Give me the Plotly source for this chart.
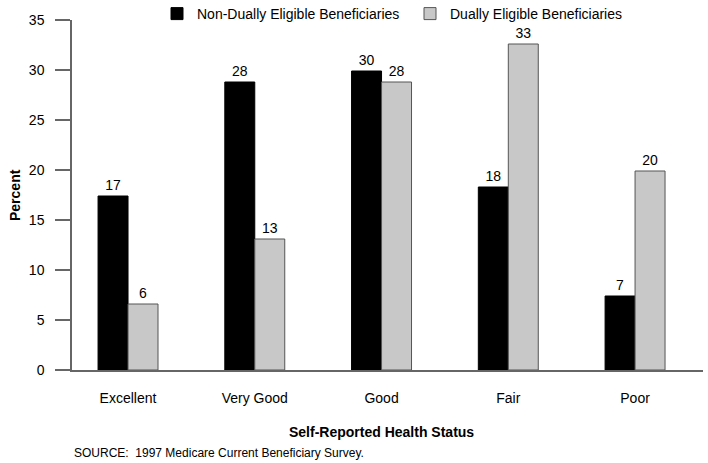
import plotly.graph_objects as go

categories = ["Excellent", "Very Good", "Good", "Fair", "Poor"]
non_dual = [17.4, 28.8, 29.9, 18.3, 7.4]
dual = [6.6, 13.1, 28.8, 32.6, 19.9]
non_dual_labels = ["17", "28", "30", "18", "7"]
dual_labels = ["6", "13", "28", "33", "20"]
y_ticks = [0, 5, 10, 15, 20, 25, 30, 35]

FONT = "Arial, Liberation Sans, sans-serif"
W, H = 708, 463
L, R, T, B = 72, 5, 20, 93
pw, ph = W - L - R, H - T - B

def px_x(p):
    return (p - L) / pw

def px_y(p):
    return (H - B - p) / ph

fig = go.Figure()
fig.add_bar(x=categories, y=non_dual, name="Non-Dually Eligible Beneficiaries",
            marker=dict(color="#000000", line=dict(color="#000000", width=1)),
            text=non_dual_labels, textposition="outside", cliponaxis=False,
            textfont=dict(family=FONT, size=14, color="#000"))
fig.add_bar(x=categories, y=dual, name="Dually Eligible Beneficiaries",
            marker=dict(color="#c8c8c8", line=dict(color="#555555", width=1)),
            text=dual_labels, textposition="outside", cliponaxis=False,
            textfont=dict(family=FONT, size=14, color="#000"))

fig.update_layout(
    width=W, height=H,
    margin=dict(l=L, r=R, t=T, b=B, pad=0, autoexpand=False),
    paper_bgcolor="white", plot_bgcolor="white",
    barmode="group", bargap=0.527, bargroupgap=0,
    font=dict(family=FONT, size=14, color="#000"),
    showlegend=True,
    legend=dict(orientation="h", x=px_x(157), y=px_y(-2), xanchor="left", yanchor="top",
                font=dict(family=FONT, size=14), traceorder="normal",
                entrywidth=208, entrywidthmode="pixels",
                bgcolor="rgba(0,0,0,0)", borderwidth=0),
    xaxis=dict(range=[-0.442, 4.536], showline=True, linecolor="#666666", linewidth=1.5,
               ticks="", showgrid=False, zeroline=False, ticklabelstandoff=14,
               tickfont=dict(family=FONT, size=14)),
    yaxis=dict(range=[0, 35], tickvals=y_ticks, showline=True, linecolor="#666666", linewidth=1.5,
               ticks="outside", ticklen=15, tickcolor="#666666", tickwidth=1.5,
               showgrid=False, zeroline=False, ticklabelstandoff=8,
               tickfont=dict(family=FONT, size=14)),
    annotations=[
        dict(text="<b>Percent</b>", textangle=-90, xref="paper", yref="paper",
             x=px_x(15), y=px_y(195), xanchor="center", yanchor="middle",
             showarrow=False, font=dict(family=FONT, size=14)),
        dict(text="<b>Self-Reported Health Status</b>", xref="paper", yref="paper",
             x=px_x(381), y=px_y(432), xanchor="center", yanchor="middle",
             showarrow=False, font=dict(family=FONT, size=14)),
        dict(text="SOURCE:  1997 Medicare Current Beneficiary Survey.", xref="paper", yref="paper",
             x=px_x(72), y=px_y(453), xanchor="left", yanchor="middle", showarrow=False,
             font=dict(family=FONT, size=12)),
    ],
)

fig.write_html("out.html", config={"displayModeBar": False},
               post_script="document.body.style.margin='0';")
